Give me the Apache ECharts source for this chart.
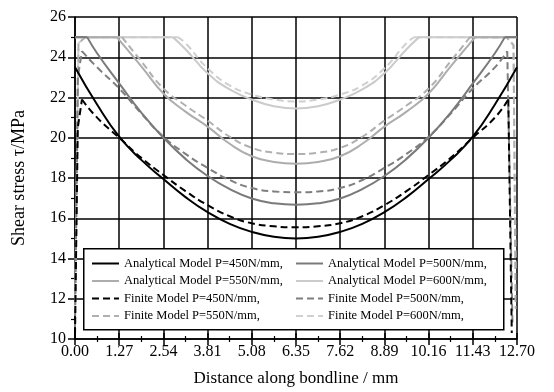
<!DOCTYPE html>
<html><head><meta charset="utf-8">
<script src="https://cdn.jsdelivr.net/npm/echarts@6/dist/echarts.min.js"></script>
<style>html,body{margin:0;padding:0;background:#fff}#c{width:554px;height:392px}</style>
</head><body><div id="c"></div>
<script>
// ---- data (x in mm, y in MPa) ----
// Analytical P=450: smooth body only
const xA450 = [0,0.635,1.27,1.905,2.54,3.175,3.81,4.445,5.08,5.715,6.35,6.985,7.62,8.255,8.89,9.525,10.16,10.795,11.43,12.065,12.7];
const yA450 = [23.5,21.65,20.05,18.9,17.95,17.05,16.3,15.72,15.32,15.08,15.0,15.08,15.32,15.72,16.3,17.05,17.95,18.9,20.05,21.65,23.5];

// Analytical P=500: plateau ends + smooth body
const xA500L = [0,0.35];      const yA500L = [25,25];
const xA500 = [0.35,0.635,1.27,1.905,2.54,3.175,3.81,4.445,5.08,5.715,6.35,6.985,7.62,8.255,8.89,9.525,10.16,10.795,11.43,12.065,12.35];
const yA500 = [25,24.2,22.7,21.25,20.0,18.95,18.1,17.45,16.98,16.74,16.67,16.74,16.98,17.45,18.1,18.95,20.0,21.25,22.7,24.2,25];
const xA500R = [12.35,12.7];  const yA500R = [25,25];

// Analytical P=550
const xA550L = [0,1.2];       const yA550L = [25,25];
const xA550 = [1.2,1.905,2.54,3.175,3.81,4.445,5.08,5.715,6.35,6.985,7.62,8.255,8.89,9.525,10.16,10.795,11.5];
const yA550 = [25,23.55,22.2,21.3,20.55,19.7,19.08,18.8,18.71,18.8,19.08,19.7,20.55,21.3,22.2,23.55,25];
const xA550R = [11.5,12.7];   const yA550R = [25,25];

// Analytical P=600
const xA600L = [0,2.81];      const yA600L = [25,25];
const xA600 = [2.81,3.175,3.81,4.445,5.08,5.715,6.35,6.985,7.62,8.255,8.89,9.525,9.89];
const yA600 = [25,24.4,23.2,22.4,21.9,21.57,21.45,21.57,21.9,22.4,23.2,24.4,25];
const xA600R = [9.89,12.7];   const yA600R = [25,25];

// Finite P=450
const xF450L = [0,0.08,0.2];  const yF450L = [10.2,20.5,21.9];
const xF450 = [0.2,0.635,1.27,1.905,2.54,3.175,3.81,4.445,5.08,5.715,6.35,6.985,7.62,8.255,8.89,9.525,10.16,10.795,11.43,12.065,12.45];
const yF450 = [21.9,21.0,20.0,19.0,18.15,17.35,16.65,16.1,15.75,15.6,15.55,15.6,15.75,16.1,16.65,17.35,18.15,19.0,20.0,21.0,21.9];
const xF450R = [12.45,12.55]; const yF450R = [21.9,10.3];

// Finite P=500
const xF500L = [0,0.08,0.2];  const yF500L = [10.6,23.0,24.3];
const xF500 = [0.2,0.635,1.27,1.905,2.54,3.175,3.81,4.445,5.08,5.715,6.35,6.985,7.62,8.255,8.89,9.525,10.16,10.795,11.43,12.065,12.42];
const yF500 = [24.3,23.5,22.45,21.2,20.05,19.2,18.5,17.9,17.5,17.33,17.29,17.33,17.5,17.9,18.5,19.2,20.05,21.2,22.45,23.5,24.3];
const xF500R = [12.42,12.57]; const yF500R = [24.3,10.8];

// Finite P=550
const xF550L = [0,0.1,0.3,1.35];  const yF550L = [11.2,24.7,25,25];
const xF550 = [1.35,1.905,2.54,3.175,3.81,4.445,5.08,5.715,6.35,6.985,7.62,8.255,8.89,9.525,10.16,10.795,11.35];
const yF550 = [25,23.8,22.45,21.6,20.85,20.05,19.5,19.26,19.19,19.26,19.5,20.05,20.85,21.6,22.45,23.8,25];
const xF550R = [11.35,12.4,12.6,12.66]; const yF550R = [25,25,24.6,11.5];

// Finite P=600
const xF600L = [0,0.1,0.3,2.95];  const yF600L = [11.5,24.7,25,25];
const xF600 = [2.95,3.175,3.81,4.445,5.08,5.715,6.35,6.985,7.62,8.255,8.89,9.525,9.75];
const yF600 = [25,24.7,23.45,22.6,22.15,21.9,21.8,21.9,22.15,22.6,23.45,24.7,25];
const xF600R = [9.75,12.4,12.6,12.66]; const yF600R = [25,25,24.6,13.5];

const names = {
  A450:'Analytical Model P=450N/mm,', A500:'Analytical Model P=500N/mm,',
  A550:'Analytical Model P=550N/mm,', A600:'Analytical Model P=600N/mm,',
  F450:'Finite Model P=450N/mm,', F500:'Finite Model P=500N/mm,',
  F550:'Finite Model P=550N/mm,', F600:'Finite Model P=600N/mm,'
};

// ---- chart ----
const FONT = 'Liberation Serif';
const pair = (xs, ys) => xs.map((x, i) => [x, ys[i]]);
function mk(key, xs, ys, color, dashed, smooth) {
  return {
    name: names[key], type: 'line', data: pair(xs, ys), symbol: 'none',
    smooth: smooth ? 0.5 : false, xAxisIndex: 0,
    lineStyle: { color: color, width: 2, type: dashed ? [7, 4] : 'solid' },
    itemStyle: { color: color }, z: 2
  };
}
const C = { A450:'#000000', A500:'#7a7a7a', A550:'#adadad', A600:'#cbcbcb',
            F450:'#000000', F500:'#7f7f7f', F550:'#b0b0b0', F600:'#d0d0d0' };
const series = [
  mk('F600', xF600, yF600, C.F600, true, true),
  mk('F600', xF600L, yF600L, C.F600, true, false),
  mk('F600', xF600R, yF600R, C.F600, true, false),
  mk('A600', xA600, yA600, C.A600, false, true),
  mk('A600', xA600L, yA600L, C.A600, false, false),
  mk('A600', xA600R, yA600R, C.A600, false, false),
  mk('F550', xF550, yF550, C.F550, true, true),
  mk('F550', xF550L, yF550L, C.F550, true, false),
  mk('F550', xF550R, yF550R, C.F550, true, false),
  mk('A550', xA550, yA550, C.A550, false, true),
  mk('A550', xA550L, yA550L, C.A550, false, false),
  mk('A550', xA550R, yA550R, C.A550, false, false),
  mk('F500', xF500, yF500, C.F500, true, true),
  mk('F500', xF500L, yF500L, C.F500, true, false),
  mk('F500', xF500R, yF500R, C.F500, true, false),
  mk('A500', xA500, yA500, C.A500, false, true),
  mk('A500', xA500L, yA500L, C.A500, false, false),
  mk('A500', xA500R, yA500R, C.A500, false, false),
  mk('F450', xF450, yF450, C.F450, true, true),
  mk('F450', xF450L, yF450L, C.F450, true, false),
  mk('F450', xF450R, yF450R, C.F450, true, false),
  mk('A450', xA450, yA450, C.A450, false, true)
];

const legendCommon = {
  orient: 'vertical', top: 257, itemWidth: 27, itemHeight: 12, itemGap: 4.5, itemTextGap: 5,
  padding: 0, itemStyle: { opacity: 0 },
  textStyle: { fontFamily: FONT, fontSize: 12.5, color: '#000', lineHeight: 12 },
  selectedMode: false
};

const chart = echarts.init(document.getElementById('c'), null, { renderer: 'canvas' });
chart.setOption({
  animation: false,
  backgroundColor: '#fff',
  grid: { left: 75, right: 37, top: 17, bottom: 51 },
  xAxis: [{
    type: 'value', min: 0, max: 12.7, interval: 1.27,
    name: 'Distance along bondline / mm', nameLocation: 'middle', nameGap: 31,
    nameTextStyle: { fontFamily: FONT, fontSize: 17, color: '#000' },
    axisLine: { show: true, lineStyle: { color: '#000', width: 1.5 } },
    axisTick: { show: true, inside: false, length: 6, lineStyle: { color: '#000', width: 1.5 } },
    minorTick: { show: true, splitNumber: 2, length: 3, lineStyle: { color: '#000', width: 1.2 } },
    axisLabel: { fontFamily: FONT, fontSize: 16, color: '#000', margin: 5, formatter: v => v.toFixed(2) },
    splitLine: { show: true, lineStyle: { color: '#000', width: 1.5 } }
  }, {
    type: 'value', min: 0, max: 12.7, interval: 1.27, position: 'bottom',
    axisLine: { show: false },
    axisTick: { show: true, inside: true, length: 6, lineStyle: { color: '#000', width: 1.5 } },
    minorTick: { show: true, splitNumber: 2, length: 3, lineStyle: { color: '#000', width: 1.2 } },
    axisLabel: { show: false }, splitLine: { show: false }
  }],
  yAxis: {
    type: 'value', min: 10, max: 26, interval: 2,
    name: 'Shear stress τ/MPa', nameLocation: 'middle', nameGap: 47,
    nameTextStyle: { fontFamily: FONT, fontSize: 18, color: '#000' },
    axisLine: { show: true, lineStyle: { color: '#000', width: 1.5 } },
    axisTick: { show: true, inside: false, length: 7, lineStyle: { color: '#000', width: 1.5 } },
    minorTick: { show: true, splitNumber: 2, length: 4, lineStyle: { color: '#000', width: 1.2 } },
    axisLabel: { fontFamily: FONT, fontSize: 16, color: '#000', margin: 9 },
    splitLine: { show: true, lineStyle: { color: '#000', width: 1.5 } }
  },
  legend: [
    Object.assign({}, legendCommon, { left: 91, data: [names.A450, names.A550, names.F450, names.F550] }),
    Object.assign({}, legendCommon, { left: 295, data: [names.A500, names.A600, names.F500, names.F600] })
  ],
  graphic: [{
    type: 'rect', z: 3, left: 83, top: 248,
    shape: { width: 420, height: 81 },
    style: { fill: '#fff', stroke: '#000', lineWidth: 1.5 }
  }],
  series: series
});
</script>
</body></html>
